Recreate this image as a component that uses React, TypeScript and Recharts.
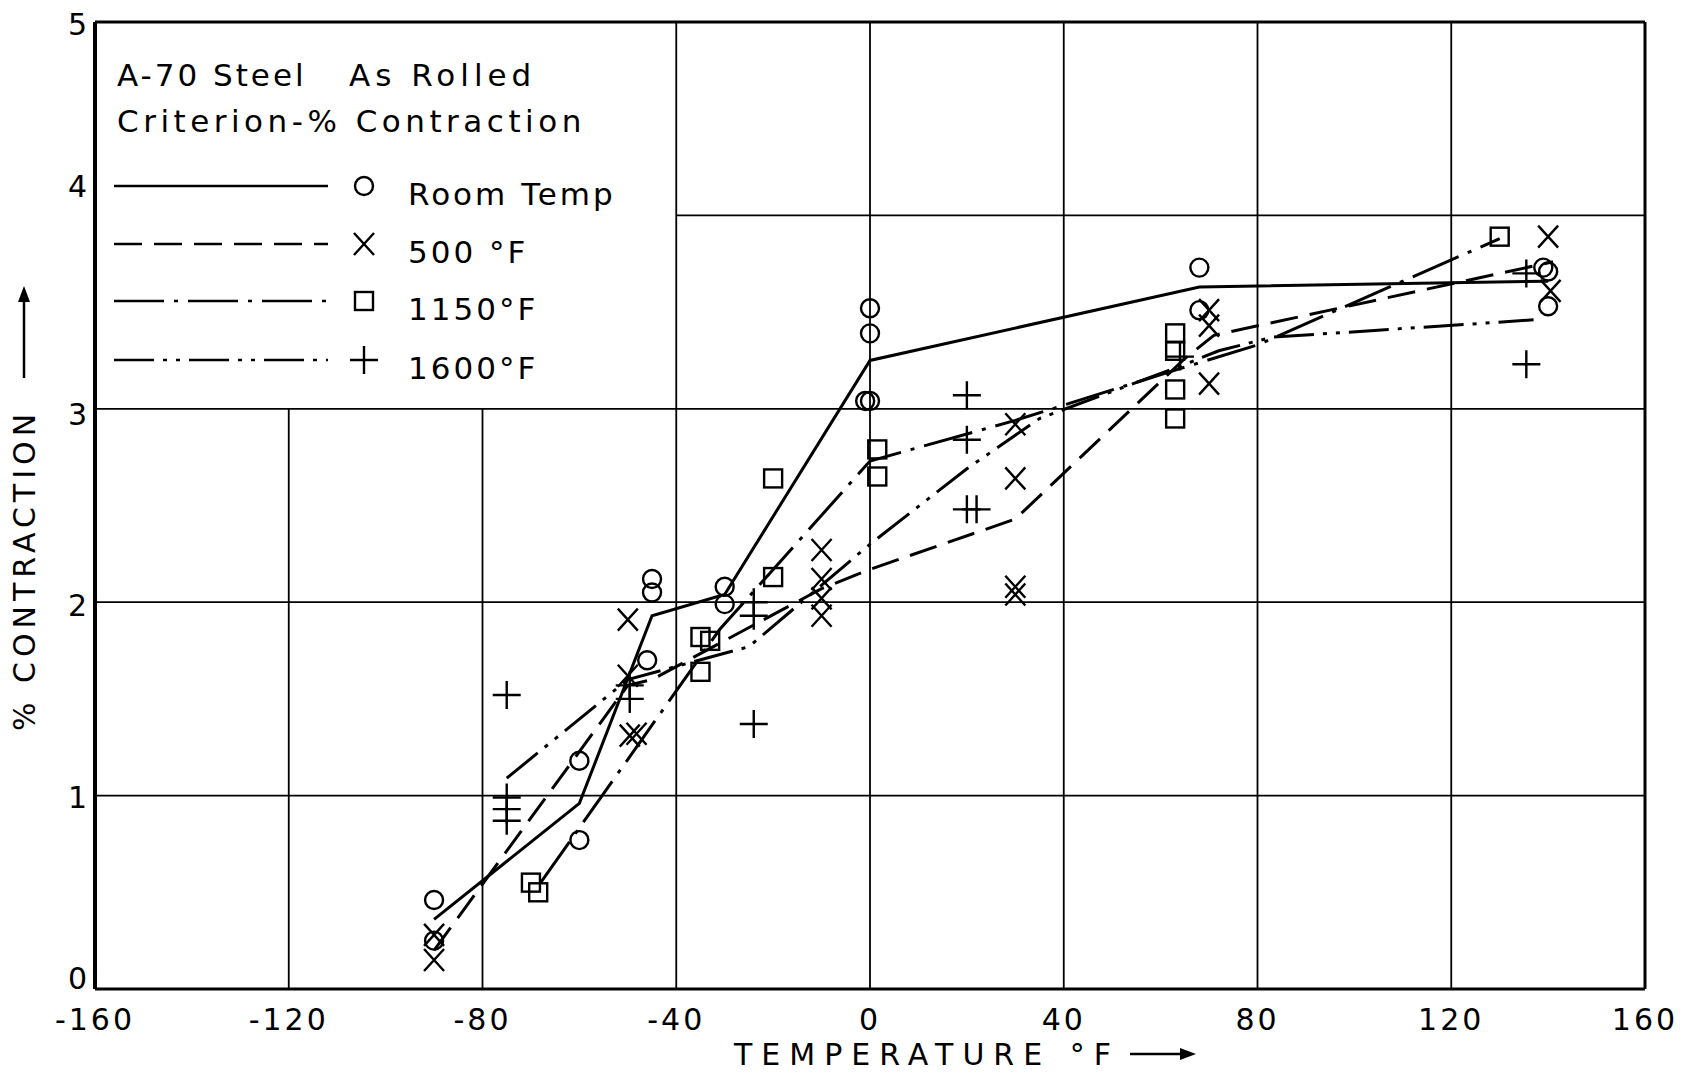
import React from "react";
import { ComposedChart, Line, Scatter, XAxis, YAxis, ReferenceLine, Customized } from "recharts";

const FONT = "'DejaVu Sans', sans-serif";

// ---- axis / grid values ----
const xTicks = [-160, -120, -80, -40, 0, 40, 80, 120, 160];
const yTicks = [0, 1, 2, 3, 4, 5];
const gridXFull = [-40, 0, 40, 80, 120];
const gridXLow = [-120, -80];
const gridYFull = [1, 2, 3];
const gridYPartial = [4];

// ---- series: measured points ----
const roomTempPoints = [
  { x: -90, y: 0.46 }, { x: -90, y: 0.25 }, { x: -60, y: 1.18 }, { x: -60, y: 0.77 },
  { x: -46, y: 1.7 }, { x: -45, y: 2.12 }, { x: -45, y: 2.05 }, { x: -30, y: 2.08 },
  { x: -30, y: 1.99 }, { x: 0, y: 3.52 }, { x: 0, y: 3.39 }, { x: -1, y: 3.04 },
  { x: 0, y: 3.04 }, { x: 68, y: 3.73 }, { x: 68, y: 3.51 }, { x: 140, y: 3.71 },
  { x: 139, y: 3.73 }, { x: 140, y: 3.53 },
];
const f500Points = [
  { x: -90, y: 0.28 }, { x: -90, y: 0.15 }, { x: -50, y: 1.91 }, { x: -50, y: 1.62 },
  { x: -49.6, y: 1.31 }, { x: -48.2, y: 1.32 }, { x: -10, y: 2.27 }, { x: -10, y: 2.12 },
  { x: -10, y: 2.02 }, { x: -10, y: 1.93 }, { x: 30, y: 2.92 }, { x: 30, y: 2.64 },
  { x: 30, y: 2.08 }, { x: 30, y: 2.04 }, { x: 70, y: 3.51 }, { x: 70, y: 3.43 },
  { x: 70, y: 3.13 }, { x: 140, y: 3.89 }, { x: 140.5, y: 3.61 },
];
const f1150Points = [
  { x: -70, y: 0.55 }, { x: -68.5, y: 0.5 }, { x: -35, y: 1.82 }, { x: -33, y: 1.8 },
  { x: -35, y: 1.64 }, { x: -20, y: 2.64 }, { x: -20, y: 2.13 }, { x: 1.5, y: 2.79 },
  { x: 1.5, y: 2.65 }, { x: 63, y: 3.39 }, { x: 63, y: 3.3 }, { x: 63, y: 3.1 },
  { x: 63, y: 2.95 }, { x: 130, y: 3.89 },
];
const f1600Points = [
  { x: -75, y: 1.52 }, { x: -75, y: 0.99 }, { x: -75, y: 0.93 }, { x: -75, y: 0.87 },
  { x: -49.6, y: 1.57 }, { x: -49.6, y: 1.5 }, { x: -24, y: 1.37 }, { x: -24, y: 2.0 },
  { x: -24, y: 1.93 }, { x: 20, y: 3.07 }, { x: 20, y: 2.84 }, { x: 20, y: 2.48 },
  { x: 22, y: 2.48 }, { x: 64, y: 3.27 }, { x: 135.5, y: 3.7 }, { x: 135.5, y: 3.23 },
];

// ---- series: faired curves ----
const roomTempLine = [
  { x: -90, y: 0.36 }, { x: -60, y: 0.96 }, { x: -45, y: 1.93 }, { x: -30, y: 2.04 },
  { x: 0, y: 3.25 }, { x: 68, y: 3.63 }, { x: 140, y: 3.66 },
];
const f500Line = [
  { x: -90, y: 0.2 }, { x: -50, y: 1.57 }, { x: -45, y: 1.6 }, { x: -10, y: 2.07 },
  { x: 0, y: 2.17 }, { x: 30, y: 2.43 }, { x: 65, y: 3.26 }, { x: 71, y: 3.38 },
  { x: 141, y: 3.76 },
];
const f1150Line = [
  { x: -68, y: 0.55 }, { x: -31, y: 1.86 }, { x: 0, y: 2.73 }, { x: 30, y: 2.94 },
  { x: 63, y: 3.2 }, { x: 80, y: 3.33 }, { x: 130, y: 3.88 },
];
const f1600Line = [
  { x: -75, y: 1.09 }, { x: -50, y: 1.6 }, { x: -25, y: 1.77 }, { x: 0, y: 2.3 },
  { x: 20, y: 2.69 }, { x: 35, y: 2.95 }, { x: 64, y: 3.22 }, { x: 72, y: 3.3 },
  { x: 83, y: 3.37 }, { x: 137, y: 3.46 },
];

const titleLine1a = "A-70 Steel";
const titleLine1b = "As Rolled";
const titleLine2 = "Criterion-% Contraction";
const seriesNames = ["Room Temp", "500 °F", "1150°F", "1600°F"];
const xTitle = "TEMPERATURE °F";
const yTitle = "% CONTRACTION";

const DASH_500 = "28 12";
const DASH_1150 = "50 10 4 10";
const DASH_1600 = "40 9 4 9 4 9";

// ---- marker shapes ----
const CircleMark = (p: any) => (
  <circle cx={p.cx} cy={p.cy} r={9} fill="none" stroke="#000" strokeWidth={2.4} />
);
const CrossMark = (p: any) => (
  <path
    d={`M${p.cx - 10},${p.cy - 11}L${p.cx + 10},${p.cy + 11}M${p.cx + 10},${p.cy - 11}L${p.cx - 10},${p.cy + 11}`}
    stroke="#000" strokeWidth={2.4} fill="none"
  />
);
const SquareMark = (p: any) => (
  <rect x={p.cx - 9} y={p.cy - 9} width={18} height={18} fill="none" stroke="#000" strokeWidth={2.4} />
);
const PlusMark = (p: any) => (
  <path d={`M${p.cx - 14},${p.cy}H${p.cx + 14}M${p.cx},${p.cy - 14}V${p.cy + 14}`} stroke="#000" strokeWidth={2.4} fill="none" />
);

const yShift: Record<number, number> = { 5: 2, 4: -29, 3: 5, 2: 3, 1: 2, 0: -11 };

const XTick = (props: any) => {
  const { x, y, payload } = props;
  return (
    <text x={x} y={y + 30} dy="0.36em" textAnchor="middle" fontFamily={FONT} fontSize={30} letterSpacing={3} fill="#000">
      {String(payload.value)}
    </text>
  );
};
const YTick = (props: any) => {
  const { x, y, payload } = props;
  return (
    <text x={x} y={y + (yShift[payload.value] ?? 0)} dy="0.36em" textAnchor="end" fontFamily={FONT} fontSize={30} fill="#000">
      {String(payload.value)}
    </text>
  );
};

// page-pixel layout of the legend / titles (chart now covers the whole page)
const LegendBox = () => {
  const rows = [186, 244, 301, 360];
  const dashes = [undefined, DASH_500, DASH_1150, DASH_1600];
  const marks = [CircleMark, CrossMark, SquareMark, PlusMark];
  return (
    <g fontFamily={FONT} fill="#000">
      <text x={117} y={86} fontSize={31} letterSpacing={3}>{titleLine1a}</text>
      <text x={349} y={86} fontSize={31} letterSpacing={5}>{titleLine1b}</text>
      <text x={117} y={132} fontSize={31} letterSpacing={4.5}>{titleLine2}</text>
      {rows.map((ry, i) => {
        const M = marks[i];
        return (
          <g key={i}>
            <line x1={114} x2={328} y1={ry} y2={ry} stroke="#000" strokeWidth={2.6} strokeDasharray={dashes[i]} />
            <M cx={364} cy={ry} />
            <text x={408} y={ry + 19} fontSize={31} letterSpacing={3}>{seriesNames[i]}</text>
          </g>
        );
      })}
    </g>
  );
};

const AxisTitles = () => (
  <g fontFamily={FONT} fill="#000">
    <text x={927} y={1054} dy="0.36em" textAnchor="middle" fontSize={30} letterSpacing={9}>{xTitle}</text>
    <line x1={1130} x2={1184} y1={1054} y2={1054} stroke="#000" strokeWidth={2.5} />
    <polygon points="1196,1054 1180,1048 1180,1060" fill="#000" />
    <text transform="translate(24,570) rotate(-90)" dy="0.36em" textAnchor="middle" fontSize={30} letterSpacing={5}>{yTitle}</text>
    <line x1={24} x2={24} y1={378} y2={298} stroke="#000" strokeWidth={2.5} />
    <polygon points="24,286 18,302 30,302" fill="#000" />
  </g>
);

export default function App() {
  return (
    <div style={{ position: "absolute", left: 0, top: 0, width: 1695, height: 1076, background: "#fff" }}>
      <ComposedChart width={1695} height={1076} margin={{ top: 22, right: 50, bottom: 0, left: 0 }}>
        <XAxis
          type="number" dataKey="x" domain={[-160, 160]} ticks={xTicks} interval={0}
          tickLine={false} tickSize={0} tickMargin={0} height={87}
          axisLine={{ stroke: "#000", strokeWidth: 3 }} tick={<XTick />}
        />
        <YAxis
          type="number" dataKey="y" domain={[0, 5]} ticks={yTicks} interval={0}
          tickLine={false} tickSize={0} tickMargin={8} width={95}
          axisLine={{ stroke: "#000", strokeWidth: 4 }} tick={<YTick />}
        />
        {gridXFull.map((v) => (
          <ReferenceLine key={"gx" + v} x={v} stroke="#000" strokeWidth={1.8} />
        ))}
        {gridXLow.map((v) => (
          <ReferenceLine key={"gl" + v} segment={[{ x: v, y: 0 }, { x: v, y: 3 }]} stroke="#000" strokeWidth={1.8} />
        ))}
        {gridYFull.map((v) => (
          <ReferenceLine key={"gy" + v} y={v} stroke="#000" strokeWidth={1.8} />
        ))}
        {gridYPartial.map((v) => (
          <ReferenceLine key={"gp" + v} segment={[{ x: -40, y: v }, { x: 160, y: v }]} stroke="#000" strokeWidth={1.8} />
        ))}
        <ReferenceLine y={5} stroke="#000" strokeWidth={3} />
        <ReferenceLine x={160} stroke="#000" strokeWidth={3} />

        <Line data={roomTempLine} dataKey="y" stroke="#000" strokeWidth={3} dot={false} isAnimationActive={false} />
        <Line data={f500Line} dataKey="y" stroke="#000" strokeWidth={3} strokeDasharray={DASH_500} dot={false} isAnimationActive={false} />
        <Line data={f1150Line} dataKey="y" stroke="#000" strokeWidth={3} strokeDasharray={DASH_1150} dot={false} isAnimationActive={false} />
        <Line data={f1600Line} dataKey="y" stroke="#000" strokeWidth={3} strokeDasharray={DASH_1600} dot={false} isAnimationActive={false} />

        <Scatter data={roomTempPoints} shape={CircleMark} isAnimationActive={false} />
        <Scatter data={f500Points} shape={CrossMark} isAnimationActive={false} />
        <Scatter data={f1150Points} shape={SquareMark} isAnimationActive={false} />
        <Scatter data={f1600Points} shape={PlusMark} isAnimationActive={false} />

        <Customized component={LegendBox} />
        <Customized component={AxisTitles} />
      </ComposedChart>
    </div>
  );
}
